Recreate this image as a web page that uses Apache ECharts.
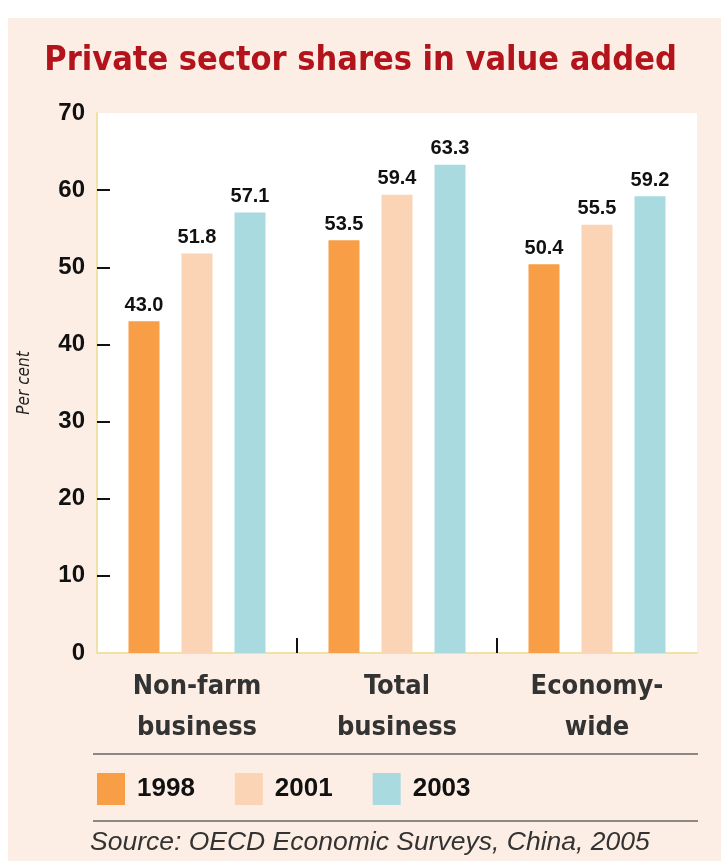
<!DOCTYPE html>
<html>
<head>
<meta charset="utf-8">
<script src="https://cdn.jsdelivr.net/npm/echarts@6/dist/echarts.min.js"></script>
<style>
html,body{margin:0;padding:0;background:#ffffff;}
#chart{width:721px;height:861px;}
</style>
</head>
<body>
<div id="chart"></div>
<script>
const categories = ['Non-farm\nbusiness', 'Total\nbusiness', 'Economy-\nwide'];
const years = ['1998', '2001', '2003'];
const values1998 = [43.0, 53.5, 50.4];
const values2001 = [51.8, 59.4, 55.5];
const values2003 = [57.1, 63.3, 59.2];
const yTicks = [10, 20, 30, 40, 50, 60];
const colors = ['#F89E47', '#FBD3B5', '#A9DADF'];

const COND = '"DejaVu Sans Condensed", "Liberation Sans", sans-serif';
const chart = echarts.init(document.getElementById('chart'), null, {renderer: 'canvas'});
const seriesData = [values1998, values2001, values2003];

const labelStyle = {
  show: true,
  position: 'top',
  distance: 6,
  color: '#111',
  fontFamily: 'Liberation Sans',
  fontWeight: 'bold',
  fontSize: 20,
  formatter: p => Number(p.value).toFixed(1)
};

chart.setOption({
  animation: false,
  backgroundColor: '#ffffff',
  graphic: [
    {type: 'rect', z: -10, shape: {x: 8, y: 18, width: 713, height: 843}, style: {fill: '#FCEEE4'}},
    {type: 'line', shape: {x1: 93, y1: 754, x2: 698, y2: 754}, style: {stroke: '#8c8782', lineWidth: 2}},
    {type: 'line', shape: {x1: 93, y1: 821, x2: 698, y2: 821}, style: {stroke: '#8c8782', lineWidth: 2}},
    {type: 'text', left: 90, top: 829, style: {text: 'Source: OECD Economic Surveys, China, 2005', fill: '#333', font: 'italic 26.5px "Liberation Sans"'}}
  ],
  title: {
    text: 'Private sector shares in value added',
    left: 'center',
    top: 39,
    textStyle: {color: '#B3141C', fontFamily: COND, fontWeight: 'bold', fontSize: 34}
  },
  legend: {
    data: years,
    left: 92,
    top: 768,
    icon: 'rect',
    itemWidth: 28,
    itemHeight: 32,
    itemGap: 40,
    textStyle: {color: '#111', fontFamily: 'Liberation Sans', fontWeight: 'bold', fontSize: 26, padding: [0, 0, 0, 7]}
  },
  grid: {left: 97, right: 24, top: 113, bottom: 208, show: true, backgroundColor: '#ffffff', borderWidth: 0},
  xAxis: [
    {
      type: 'category',
      data: categories,
      axisLine: {lineStyle: {color: '#F0E2A6', width: 2}},
      axisTick: {show: false},
      axisLabel: {color: '#333', fontFamily: COND, fontWeight: 'bold', fontSize: 27, lineHeight: 41, margin: 13}
    },
    {
      type: 'value',
      min: 0, max: 3, interval: 1,
      position: 'bottom',
      axisLine: {show: false},
      axisLabel: {show: false},
      splitLine: {show: false},
      axisTick: {show: true, inside: true, length: 15, lineStyle: {color: '#111', width: 2}, customValues: [1, 2]}
    }
  ],
  yAxis: {
    type: 'value',
    min: 0, max: 70, interval: 10,
    name: 'Per cent',
    nameLocation: 'middle',
    nameGap: 64,
    nameTextStyle: {color: '#222', fontFamily: COND, fontStyle: 'italic', fontSize: 17},
    axisLine: {show: true, lineStyle: {color: '#F0E2A6', width: 2}},
    axisTick: {show: true, inside: true, length: 13, lineStyle: {color: '#111', width: 2}, customValues: yTicks},
    splitLine: {show: false},
    axisLabel: {color: '#111', fontFamily: 'Liberation Sans', fontWeight: 'bold', fontSize: 24, margin: 12}
  },
  series: years.map((y, i) => ({
    name: y,
    type: 'bar',
    xAxisIndex: 0,
    data: seriesData[i],
    barWidth: 31,
    barGap: '71%',
    itemStyle: {color: colors[i]},
    label: labelStyle
  }))
});
</script>
</body>
</html>
